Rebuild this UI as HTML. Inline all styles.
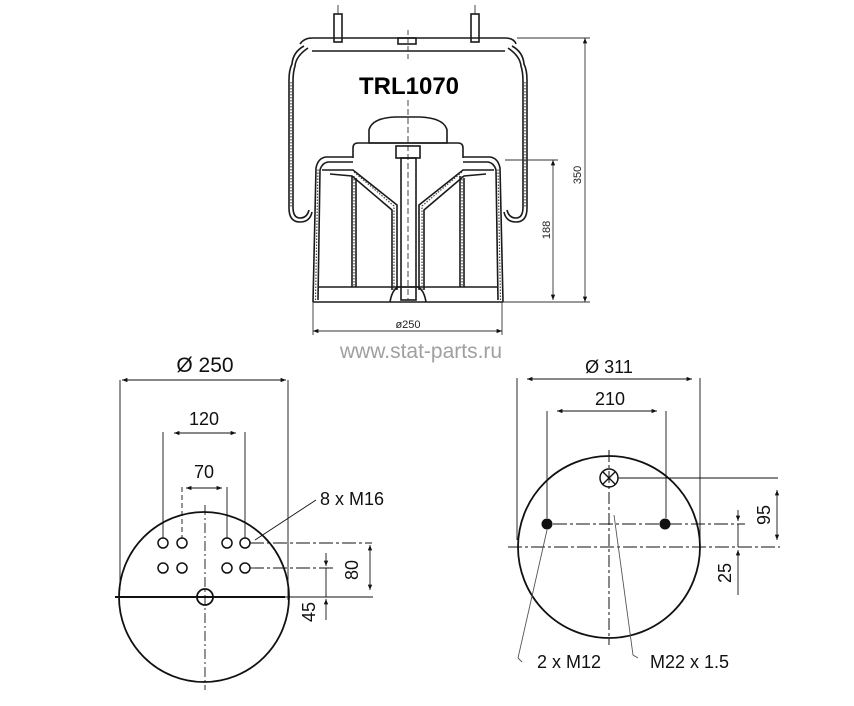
<!DOCTYPE html>
<html><head><meta charset="utf-8"><style>
html,body{margin:0;padding:0;background:#fff;}
svg{display:block;font-family:"Liberation Sans",sans-serif;}
</style></head><body>
<svg width="854" height="706" viewBox="0 0 854 706" xmlns="http://www.w3.org/2000/svg">
<defs>
<marker id="a" viewBox="0 0 10 10" refX="10" refY="5" markerWidth="8" markerHeight="6" orient="auto-start-reverse"><path d="M0,1 L10,5 L0,9 z" fill="#111"/></marker>
</defs>
<rect width="854" height="706" fill="#fff"/>

<!-- TOP DRAWING -->
<g fill="none" stroke="#1a1a1a" stroke-width="1.6">
  <rect x="334" y="14" width="8" height="28" fill="#fff"/>
  <rect x="471" y="14" width="8" height="28" fill="#fff"/>
  <line x1="338" y1="5" x2="338" y2="14" stroke-width="0.8"/>
  <line x1="475" y1="5" x2="475" y2="14" stroke-width="0.8"/>
  <path d="M300,44 Q304,38 312,38 L505,38 Q514,38 516,44"/>
  <line x1="312" y1="51" x2="505" y2="51"/>
  <rect x="398" y="38" width="18" height="6"/>
  <line x1="408" y1="30" x2="408" y2="60" stroke-dasharray="5,3" stroke-width="0.8"/>
  <path d="M304,46 Q293,52 292,64 Q289,70 289,80 L289,208 Q289,222 300,222 Q310,222 312,212"/>
  <path d="M308,48 Q296,56 295,66 Q293,72 293,82 L293,207 Q293,218 300,218 Q307,218 309,210"/>
  <path d="M512,46 Q523,52 524,64 Q527,70 527,80 L527,208 Q527,222 516,222 Q506,222 504,212"/>
  <path d="M508,48 Q520,56 521,66 Q523,72 523,82 L523,207 Q523,218 516,218 Q509,218 507,210"/>
  <path d="M369,143 L369,130 Q372,118 395,117 L420,117 Q444,118 447,130 L447,143 Z"/>
  <path d="M353,158 L353,148 Q353,143 358,143 L458,143 Q463,143 463,148 L463,158"/>
  <rect x="396" y="146" width="24" height="12"/>
  <path d="M313,302 L316,168 Q318,158 326,157 L353,157"/>
  <path d="M318,300 L320,170 Q322,163 328,162 L353,162"/>
  <path d="M503,302 L500,168 Q498,158 490,157 L463,157"/>
  <path d="M498,300 L496,170 Q494,163 488,162 L463,162"/>
  <path d="M322,170 L353,170 L397,205 L397,290"/>
  <path d="M330,174 L352,176 L392,210 L392,290"/>
  <path d="M494,170 L463,170 L419,205 L419,290"/>
  <path d="M486,174 L464,176 L424,210 L424,290"/>
  <line x1="352" y1="176" x2="352" y2="287"/><line x1="356" y1="178" x2="356" y2="287"/>
  <line x1="460" y1="176" x2="460" y2="287"/><line x1="464" y1="178" x2="464" y2="287"/>
  <rect x="401" y="158" width="15" height="142"/>
  <line x1="408" y1="100" x2="408" y2="300" stroke-dasharray="6,3" stroke-width="0.8"/>
  <line x1="318" y1="287" x2="498" y2="287"/>
  <line x1="313" y1="302" x2="503" y2="302"/>
  <path d="M390,302 Q392,290 398,287 L418,287 Q424,290 426,302"/>
</g>
<g stroke-dasharray="1.5,1.5" stroke="#444" fill="none" stroke-width="1.2">
  <path d="M315.5,300 L318,168"/><path d="M500.5,300 L498,168"/>
  <path d="M354,172 L394,206 L394,290"/><path d="M462,172 L422,206 L422,290"/>
  <line x1="354" y1="176" x2="354" y2="287"/><line x1="462" y1="176" x2="462" y2="287"/>
  <path d="M291,82 L291,208"/><path d="M525,82 L525,208"/>
</g>
<text x="409" y="94" font-size="24" font-weight="bold" text-anchor="middle" fill="#000">TRL1070</text>

<g stroke="#333" stroke-width="0.9" fill="none">
  <line x1="517" y1="38" x2="590" y2="38"/>
  <line x1="503" y1="302" x2="590" y2="302"/>
  <line x1="505" y1="160" x2="558" y2="160"/>
  <line x1="585" y1="38" x2="585" y2="302" marker-start="url(#a)" marker-end="url(#a)"/>
  <line x1="553" y1="160" x2="553" y2="300" marker-start="url(#a)" marker-end="url(#a)"/>
  <line x1="313" y1="302" x2="313" y2="335"/>
  <line x1="502" y1="302" x2="502" y2="335"/>
  <line x1="313" y1="331" x2="502" y2="331" marker-start="url(#a)" marker-end="url(#a)"/>
</g>
<text transform="translate(581,175) rotate(-90)" font-size="11" text-anchor="middle" fill="#222">350</text>
<text transform="translate(550,230) rotate(-90)" font-size="11" text-anchor="middle" fill="#222">188</text>
<text x="408" y="328" font-size="11" text-anchor="middle" fill="#222">ø250</text>
<text x="421" y="358" font-size="21" text-anchor="middle" fill="#a0a0a0">www.stat-parts.ru</text>

<!-- LEFT CIRCLE -->
<g stroke="#111" fill="none">
  <circle cx="204" cy="597" r="85" stroke-width="1.8"/>
  <line x1="115" y1="597" x2="285" y2="597" stroke-width="2"/>
  <line x1="270" y1="597" x2="373" y2="597" stroke-width="0.9"/>
  <line x1="205" y1="505" x2="205" y2="690" stroke-width="0.9" stroke-dasharray="10,3,2,3"/>
  <circle cx="205" cy="597" r="8" stroke-width="1.8"/>
  <g stroke-width="1.5">
    <circle cx="163" cy="543" r="5"/><circle cx="182" cy="543" r="5"/><circle cx="227" cy="543" r="5"/><circle cx="245" cy="543" r="5"/>
    <circle cx="163" cy="568" r="5"/><circle cx="182" cy="568" r="5"/><circle cx="227" cy="568" r="5"/><circle cx="245" cy="568" r="5"/>
  </g>
  <g stroke-width="0.9">
    <line x1="120" y1="380" x2="120" y2="590"/><line x1="288" y1="380" x2="288" y2="600"/>
    <line x1="122" y1="380" x2="286" y2="380" marker-start="url(#a)" marker-end="url(#a)"/>
    <line x1="163" y1="432" x2="163" y2="538"/><line x1="245" y1="432" x2="245" y2="538"/>
    <line x1="174" y1="433" x2="236" y2="433" marker-start="url(#a)" marker-end="url(#a)"/>
    <line x1="182" y1="487" x2="182" y2="538" stroke-dasharray="5,3"/><line x1="227" y1="487" x2="227" y2="538"/>
    <line x1="186" y1="488" x2="222" y2="488" marker-start="url(#a)" marker-end="url(#a)"/>
    <line x1="250" y1="543" x2="372" y2="543" stroke-dasharray="14,3,3,3"/>
    <line x1="250" y1="568" x2="335" y2="568" stroke-dasharray="14,3,3,3"/>
    <line x1="370" y1="545" x2="370" y2="590" marker-start="url(#a)" marker-end="url(#a)"/>
    <line x1="326" y1="553" x2="326" y2="566" marker-end="url(#a)"/>
    <line x1="326" y1="568" x2="326" y2="597"/>
    <line x1="326" y1="620" x2="326" y2="599" marker-end="url(#a)"/>
    <line x1="255" y1="540" x2="316" y2="500"/>
  </g>
</g>
<text x="205" y="372" font-size="21" text-anchor="middle" fill="#111">Ø 250</text>
<text x="204" y="425" font-size="18" text-anchor="middle" fill="#111">120</text>
<text x="204" y="478" font-size="18" text-anchor="middle" fill="#111">70</text>
<text x="320" y="505" font-size="18" fill="#111">8 x M16</text>
<text transform="translate(358,570) rotate(-90)" font-size="18" text-anchor="middle" fill="#111">80</text>
<text transform="translate(315,612) rotate(-90)" font-size="18" text-anchor="middle" fill="#111">45</text>

<!-- RIGHT CIRCLE -->
<g stroke="#111" fill="none">
  <circle cx="609" cy="547" r="91" stroke-width="1.8"/>
  <line x1="508" y1="547" x2="780" y2="547" stroke-width="1" stroke-dasharray="14,3,3,3"/>
  <line x1="609" y1="450" x2="609" y2="645" stroke-width="1" stroke-dasharray="12,3,3,3"/>
  <circle cx="609" cy="478" r="9" stroke-width="1.5"/>
  <line x1="603" y1="472" x2="615" y2="484" stroke-width="1.3"/>
  <line x1="615" y1="472" x2="603" y2="484" stroke-width="1.3"/>
  <line x1="553" y1="524" x2="745" y2="524" stroke-width="0.9" stroke-dasharray="14,3,3,3"/>
  <g stroke-width="0.9">
    <line x1="517" y1="378" x2="517" y2="540"/><line x1="700" y1="378" x2="700" y2="550"/>
    <line x1="527" y1="379" x2="692" y2="379" marker-start="url(#a)" marker-end="url(#a)"/>
    <line x1="547" y1="411" x2="547" y2="518"/><line x1="666" y1="411" x2="666" y2="518"/>
    <line x1="557" y1="411" x2="657" y2="411" marker-start="url(#a)" marker-end="url(#a)"/>
    <line x1="618" y1="478" x2="778" y2="478"/>
    <line x1="777" y1="490" x2="777" y2="540" marker-start="url(#a)" marker-end="url(#a)"/>
    <line x1="738" y1="510" x2="738" y2="521" marker-end="url(#a)"/>
    <line x1="738" y1="524" x2="738" y2="547"/>
    <line x1="738" y1="595" x2="738" y2="550" marker-end="url(#a)"/>
    <polyline points="547,530 518,658 522,662" stroke="#555"/>
    <polyline points="614,515 633,655 638,658" stroke="#555"/>
  </g>
</g>
<circle cx="547" cy="524" r="5.5" fill="#111"/>
<circle cx="665" cy="524" r="5.5" fill="#111"/>
<text x="609" y="373" font-size="18" text-anchor="middle" fill="#111">Ø 311</text>
<text x="610" y="405" font-size="18" text-anchor="middle" fill="#111">210</text>
<text transform="translate(770,515) rotate(-90)" font-size="18" text-anchor="middle" fill="#111">95</text>
<text transform="translate(731,573) rotate(-90)" font-size="18" text-anchor="middle" fill="#111">25</text>
<text x="537" y="668" font-size="18" fill="#111">2 x M12</text>
<text x="650" y="668" font-size="18" fill="#111">M22 x 1.5</text>
</svg>
</body></html>
